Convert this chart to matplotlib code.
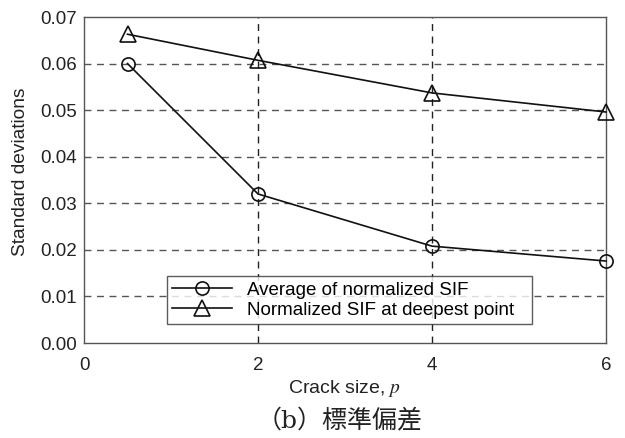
import matplotlib
matplotlib.use("Agg")
import matplotlib.pyplot as plt

crack_size = [0.5, 2, 4, 6]
avg_sif = [0.0600, 0.0320, 0.0208, 0.0176]
deepest_sif = [0.0663, 0.0607, 0.0537, 0.0496]
xticks = [0, 2, 4, 6]
yticks = [0.00, 0.01, 0.02, 0.03, 0.04, 0.05, 0.06, 0.07]

plt.rcParams['font.family'] = ['Liberation Sans', 'DejaVu Sans']
plt.rcParams['mathtext.fontset'] = 'stix'

fig = plt.figure(figsize=(6.25, 4.38), dpi=100)
ax = fig.add_axes([84/625, 1-343/438, (606-84)/625, (343-17)/438])

for y in yticks[1:-1]:
    ax.axhline(y, color='#555555', ls=(0, (5, 4)), lw=1.0, zorder=1)
for x in [2, 4]:
    ax.axvline(x, color='#222222', ls=(0, (5, 4)), lw=1.0, zorder=1)

ax.plot(crack_size, avg_sif, color='#111111', lw=1.2, marker='o', ms=9.5,
        mfc='none', mec='#111111', mew=1.2, label='Average of normalized SIF', zorder=3, clip_on=False)
ax.plot(crack_size, deepest_sif, color='#111111', lw=1.2, marker='^', ms=11,
        mfc='none', mec='#111111', mew=1.2, label='Normalized SIF at deepest point', zorder=3, clip_on=False)

ax.set_xlim(0, 6)
ax.set_ylim(0, 0.07)
ax.set_xticks(xticks)
ax.set_yticks(yticks)
ax.set_yticklabels([f"{v:.2f}" for v in yticks])
ax.tick_params(length=0, labelsize=13.5, colors='#222222')
ax.tick_params(axis='y', pad=5)
ax.tick_params(axis='x', pad=10)
for s in ax.spines.values():
    s.set_color('#555555')
    s.set_linewidth(1.0)

ax.set_ylabel('Standard deviations', fontsize=13.8, color='#222222')
ax.yaxis.set_label_coords((29-84)/522, (343-172)/326)
ax.set_xlabel('Crack size, $p$', fontsize=14, color='#222222', labelpad=3)

leg = ax.legend(loc='lower left', bbox_to_anchor=((167-84)/522, (343-324)/326, (532-167)/522, 50/326),
                mode='expand', fontsize=13.5, frameon=True, fancybox=False, edgecolor='#333333',
                handlelength=3.2, borderpad=0.28, labelspacing=0.15, borderaxespad=0, handletextpad=0.8)
leg.get_frame().set_linewidth(1.0)

fig.text(340/625, 1-421/438, '（b）標準偏差', ha='center', va='center', fontsize=18,
         family=['DejaVu Serif', 'Noto Sans CJK JP'], color='#222222')

fig.savefig('out.png', dpi=100)
